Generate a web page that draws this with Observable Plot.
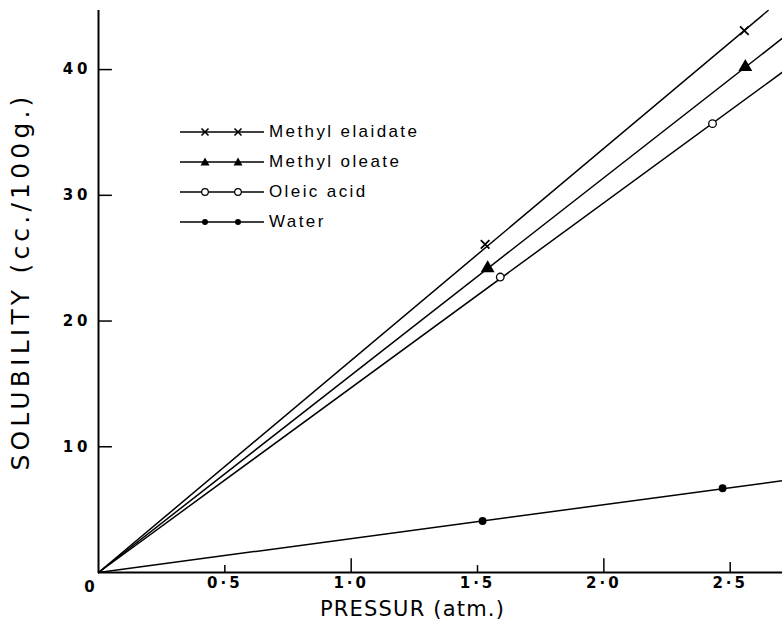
<!DOCTYPE html>
<html><head><meta charset="utf-8">
<script src="https://cdn.jsdelivr.net/npm/d3@7"></script>
<script src="https://cdn.jsdelivr.net/npm/@observablehq/plot@0.6"></script>
<style>
body{margin:0;background:#fff;}
#wrap{position:relative;width:782px;height:630px;}
#legend{position:absolute;left:180px;top:117px;font-family:"Liberation Sans",Arial,sans-serif;font-size:17px;letter-spacing:2.4px;color:#000;}
.row{display:flex;align-items:center;height:30px;}
.row svg{margin-right:3px;}
</style></head><body>
<div id="wrap"><div id="legend"></div></div>
<script>
// ---- data ----
const seriesNames = ["Methyl elaidate", "Methyl oleate", "Oleic acid", "Water"];
const elaidateX = [1.53, 2.556];
const elaidateY = [26.1, 43.1];
const oleateX = [1.54, 2.56];
const oleateY = [24.2, 40.2];
const oleicX = [1.59, 2.43];
const oleicY = [23.5, 35.7];
const waterX = [1.52, 2.47];
const waterY = [4.1, 6.7];
// fitted straight lines through origin: end points
const lineStartX = [0, 0, 0, 0];
const lineStartY = [0, 0, 0, 0];
const lineEndX = [2.65, 2.707, 2.707, 2.707];
const lineEndY = [44.7, 42.5, 39.8, 7.3];
const xTicks = [0.5, 1.0, 1.5, 2.0, 2.5];
const yTicks = [10, 20, 30, 40];
const xTitle = "PRESSUR (atm.)";
const yTitle = "SOLUBILITY (cc./100g.)";

const xs = [elaidateX, oleateX, oleicX, waterX];
const ys = [elaidateY, oleateY, oleicY, waterY];
const points = [];
seriesNames.forEach((s, i) => xs[i].forEach((x, j) => points.push({series: s, pressure: x, solubility: ys[i][j]})));
const lines = [];
seriesNames.forEach((s, i) => {
  lines.push({series: s, pressure: lineStartX[i], solubility: lineStartY[i]});
  lines.push({series: s, pressure: lineEndX[i], solubility: lineEndY[i]});
});
const pts = s => points.filter(d => d.series === s);

const chart = Plot.plot({
  width: 782, height: 630,
  marginLeft: 98, marginRight: 0, marginTop: 10, marginBottom: 58,
  style: {fontFamily: "'DejaVu Sans', sans-serif", color: "black", background: "white", overflow: "visible"},
  x: {domain: [0, 2.707]},
  y: {domain: [0, 44.7]},
  marks: [
    Plot.ruleY([0], {stroke: "black", strokeWidth: 2}),
    Plot.ruleX([0], {stroke: "black", strokeWidth: 2}),
    Plot.ruleX(xTicks, {x: d => d, y1: 0, y2: d => (Number.isInteger(d) ? 1.1 : d === 2.5 ? 0.8 : 0.55), stroke: "black", strokeWidth: 1.5}),
    Plot.ruleY(yTicks, {y: d => d, x1: 0, x2: 0.055, stroke: "black", strokeWidth: 1.5}),
    Plot.axisX(xTicks, {tickSize: 0, tickPadding: 5, tickFormat: d => d.toFixed(1).replace(".", "·"), fontSize: 15, fontWeight: "bold", label: null}),
    Plot.axisY(yTicks, {tickSize: 0, tickPadding: 7, fontSize: 15, fontWeight: "bold", label: null}),
    Plot.text(["0"], {x: 0, y: 0, text: d => d, dx: -7, dy: 15, fontSize: 15, fontWeight: "bold"}),
    Plot.line(lines, {x: "pressure", y: "solubility", z: "series", stroke: "black", strokeWidth: 1.5}),
    Plot.dot(pts("Methyl elaidate"), {x: "pressure", y: "solubility", symbol: "times", r: 4, stroke: "black", strokeWidth: 1.8}),
    Plot.dot(pts("Methyl oleate"), {x: "pressure", y: "solubility", symbol: "triangle", r: 4.2, fill: "black", stroke: "black"}),
    Plot.dot(pts("Oleic acid"), {x: "pressure", y: "solubility", r: 3.8, fill: "white", stroke: "black", strokeWidth: 1.3}),
    Plot.dot(pts("Water"), {x: "pressure", y: "solubility", r: 3.2, fill: "black", stroke: "black"}),
    Plot.text([yTitle], {frameAnchor: "left", dx: -78, dy: -10, rotate: -90, textAnchor: "middle", lineAnchor: "middle", fontSize: 25, text: d => d}),
    Plot.text([xTitle], {frameAnchor: "bottom", dx: -28, dy: 37, textAnchor: "middle", lineAnchor: "middle", fontSize: 21, text: d => d})
  ]
});
const wrap = document.getElementById("wrap");
wrap.insertBefore(chart, wrap.firstChild);

// letter spacing (set directly on the text elements)
chart.querySelectorAll("text").forEach(t => {
  const s = t.textContent;
  let ls = null;
  if (s === yTitle) ls = "4.2px";
  else if (s === xTitle) ls = "1.2px";
  else if (/^[0-9]+$/.test(s)) ls = "4px";
  else if (/^[0-9·]+$/.test(s)) ls = "3px";
  if (ls) { t.setAttribute("letter-spacing", ls); t.style.letterSpacing = ls; }
});

// legend
const glyph = (kind, cx) => {
  if (kind === 0) return `<path d="M${cx-3.5},3.5L${cx+3.5},10.5M${cx-3.5},10.5L${cx+3.5},3.5" stroke="#000" stroke-width="1.6"/>`;
  if (kind === 1) return `<path d="M${cx},2.5L${cx+4.5},10.5L${cx-4.5},10.5Z" fill="#000"/>`;
  if (kind === 2) return `<circle cx="${cx}" cy="7" r="3.3" fill="#fff" stroke="#000" stroke-width="1.2"/>`;
  return `<circle cx="${cx}" cy="7" r="3" fill="#000"/>`;
};
const legend = document.getElementById("legend");
legend.innerHTML = seriesNames.map((s, i) =>
  `<div class="row"><svg width="86" height="14"><line x1="0" y1="7" x2="84" y2="7" stroke="#000" stroke-width="1.4"/>${glyph(i, 25)}${glyph(i, 58)}</svg><span>${s}</span></div>`
).join("");
</script>
</body></html>
